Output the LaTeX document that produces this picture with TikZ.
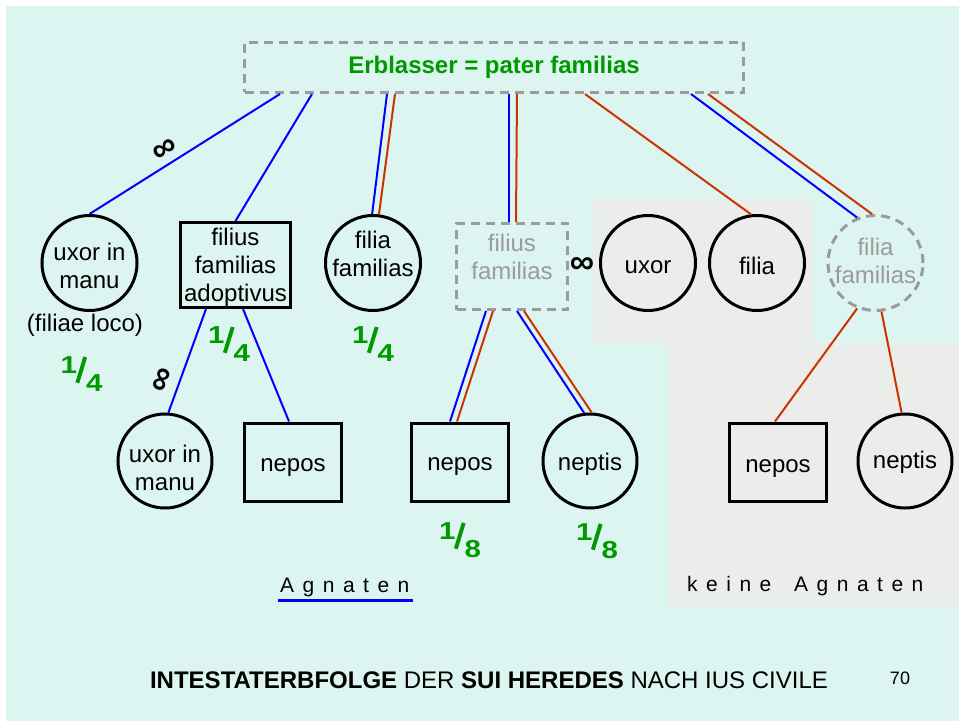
\documentclass[tikz,border=0pt]{standalone}
\usepackage{graphicx}
\usepackage{fontspec}
\setmainfont{Liberation Sans}
\usetikzlibrary{calc}
\definecolor{bgc}{RGB}{221,245,240}
\definecolor{grayreg}{RGB}{235,237,235}
\definecolor{lblue}{RGB}{0,0,255}
\definecolor{lred}{RGB}{204,51,0}
\definecolor{lgreen}{RGB}{0,153,0}
\definecolor{dgray}{RGB}{155,155,155}
\newcommand\frc[2]{\raisebox{0.76em}{\scalebox{1.2}[1]{#1}}\kern-0.06em\raisebox{0.34em}{\rotatebox[origin=c]{-17}{\rule{0.16em}{1.1em}}}\kern-0.04em\scalebox{1.2}[1]{#2}}
\newcommand\lsp{\kern8.5pt}
\begin{document}
\begin{tikzpicture}[x=1pt,y=-1pt,
  every node/.style={font=\fontsize{24}{28}\selectfont, align=center},
  circ/.style={circle, draw, line width=3, minimum size=95, inner sep=0},
  dcirc/.style={circ, draw=dgray, dash pattern=on 9pt off 6pt},
  sbox/.style={rectangle, draw, line width=3, inner sep=0},
  dbox/.style={sbox, draw=dgray, dash pattern=on 9pt off 6pt},
  tl/.style 2 args={label={[yshift=#1]center:{#2}}},
  tlg/.style 2 args={label={[yshift=#1, text=dgray]center:{#2}}},
  bl/.style={draw=lblue, line width=2},
  rd/.style={draw=lred, line width=2},
  frac/.style={text=lgreen, inner sep=0, font=\fontsize{24.5}{24.5}\selectfont\bfseries},
  infs/.style={inner sep=0, font=\fontsize{34}{34}\selectfont\bfseries},
  spaced/.style={inner sep=0, anchor=base west, font=\fontsize{21}{21}\selectfont}
]
\fill[white] (0,0) rectangle (959,722);
\fill[bgc] (6,6) rectangle (959,721);
\fill[grayreg] (593,199) -- (813,199) -- (813,343) -- (959,343) -- (959,607)
  -- (668,607) -- (668,343) -- (593,343) -- cycle;

% top
\node[dbox, minimum width=499, minimum height=50, text=lgreen,
      font=\fontsize{24}{28}\selectfont\bfseries] (T) at (494,67.5) {Erblasser = pater familias};

% middle row
\node[circ, tl={-2.5}{uxor in\\manu}] (u1) at (89.5,263) {};
\node (fl) at (85,325) {(filiae loco)};
\node[sbox, minimum width=110, minimum height=85, tl={-2}{filius\\familias\\adoptivus}] (ad) at (235.5,265) {};
\node[circ, tl={9.5}{filia\\familias}] (f1) at (373,263) {};
\node[dbox, minimum width=111, minimum height=86, tlg={10}{filius\\familias}] (ff) at (512,266.5) {};
\node[circ, tl={-4}{uxor}] (ux) at (648,263) {};
\node[circ, tl={-3}{filia}] (fi) at (757,263) {};
\node[dcirc, tlg={2.5}{filia\\familias}] (ff2) at (875.5,263) {};

% bottom row
\node[circ, minimum size=94, tl={-7}{uxor in\\manu}] (u2) at (165,461) {};
\node[sbox, minimum width=97, minimum height=78, tl={-6}{nepos}] (n1) at (293,462) {};
\node[sbox, minimum width=97, minimum height=78, tl={-5}{nepos}] (n2) at (460,462) {};
\node[circ, minimum size=94, tl={-3}{neptis}] (p1) at (590,461) {};
\node[sbox, minimum width=97, minimum height=78, tl={-7}{nepos}] (n3) at (778,462) {};
\node[circ, minimum size=94, tl={-1}{neptis}] (p2) at (905,461) {};

% fractions
\node[frac] (q1) at (81.5,374) {\frc14};
\node[frac] (q2) at (229,344) {\frc14};
\node[frac] (q3) at (373,344) {\frc14};
\node[frac] (q4) at (460,540) {\frc18};
\node[frac] (q5) at (597,541) {\frc18};

% infinity signs
\node[infs, rotate=32.5] (i1) at (165,150) {∞};
\node[infs, rotate=69] (i2) at (163,380) {∞};
\node[infs] (i3) at (582,265) {∞};

% connectors from the top
\draw[bl] ([xshift=37]T.south west) -- (u1.north);
\draw[bl] ([xshift=69]T.south west) -- (ad.north);
\draw[bl] ([xshift=144]T.south west) -- (f1.91);
\draw[rd] ([xshift=152]T.south west) -- (f1.83);
\draw[bl] ([xshift=266]T.south west) -- ([xshift=-3]ff.north);
\draw[rd] ([xshift=274]T.south west) -- ([xshift=4]ff.north);
\draw[rd] ([xshift=342]T.south west) -- (fi.97);
\draw[bl] ([xshift=448]T.south west) -- (ff2.112);
\draw[rd] ([xshift=465]T.south west) -- (ff2.94);

% lower connectors
\draw[bl] ([xshift=-29.5]ad.south) -- (u2.86);
\draw[bl] ([xshift=7.5]ad.south) -- ([xshift=-4]n1.north);
\draw[bl] ([xshift=-26]ff.south) -- ([xshift=-10]n2.north);
\draw[rd] ([xshift=-19]ff.south) -- ([xshift=-3]n2.north);
\draw[bl] ([xshift=5]ff.south) -- (p1.97);
\draw[rd] ([xshift=12]ff.south) -- (p1.88);
\draw[rd] (ff2.248) -- ([xshift=-3]n3.north);
\draw[rd] (ff2.277) -- (p2.94);

% captions
\node[spaced] (ag) at (280,592) {A\lsp g\lsp n\lsp a\lsp t\lsp e\lsp n};
\draw[bl, line width=3] ([xshift=-2,yshift=-8]ag.base west) -- ([xshift=3,yshift=-8]ag.base east);
\node[spaced] (kag) at (687,591) {k\lsp e\lsp i\lsp n\lsp e\kern22.8pt A\lsp g\lsp n\lsp a\lsp t\lsp e\lsp n};

\node[anchor=base] (ti) at (489,688) {\textbf{INTESTATERBFOLGE} DER \textbf{SUI HEREDES} NACH IUS CIVILE};
\node[anchor=base, font=\fontsize{18}{18}\selectfont] (pg) at (900,684) {70};
\end{tikzpicture}
\end{document}
